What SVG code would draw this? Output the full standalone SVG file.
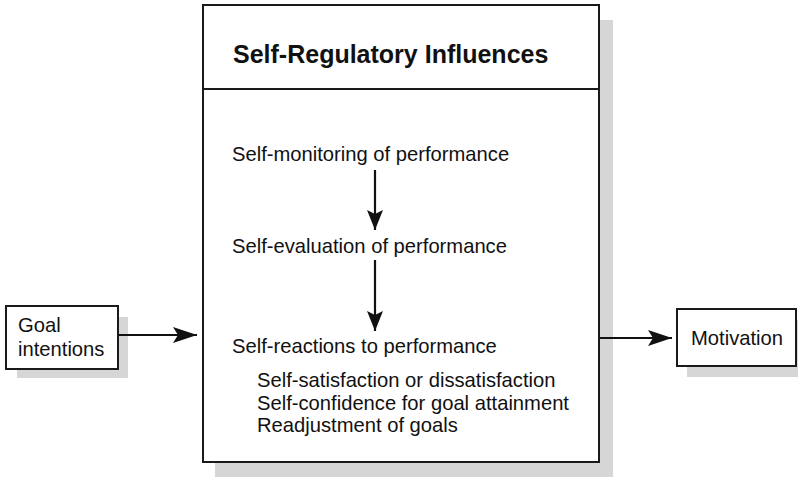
<svg xmlns="http://www.w3.org/2000/svg" width="798" height="480" viewBox="0 0 798 480">
  <defs>
    <marker id="arrow" markerWidth="24" markerHeight="16" refX="24" refY="8" orient="auto" markerUnits="userSpaceOnUse">
      <path d="M0,0 L24,8 L0,16 L5,8 Z" fill="#111"/>
    </marker>
    <marker id="arrowDown" markerWidth="20" markerHeight="16" refX="20" refY="8" orient="auto" markerUnits="userSpaceOnUse">
      <path d="M0,0 L20,8 L0,16 L4,8 Z" fill="#111"/>
    </marker>
  </defs>
  <style>
    .box { fill: #ffffff; stroke: #1a1a1a; stroke-width: 2; }
    .shadow { fill: #d6d6d6; }
    .label { font-family: "Liberation Sans", Arial, Helvetica, sans-serif; font-size: 20.2px; fill: #111; }
    .title { font-family: "Liberation Sans", Arial, Helvetica, sans-serif; font-size: 25px; font-weight: bold; fill: #111; }
    .conn { stroke: #111; stroke-width: 2.2; fill: none; }
  </style>
  <rect width="798" height="480" fill="#ffffff"/>

  <!-- Goal intentions -->
  <g id="goal">
    <rect class="shadow" x="17" y="317" width="111" height="61"/>
    <rect class="box" x="6" y="306" width="112" height="63"/>
    <text class="label" x="18" y="332">Goal</text>
    <text class="label" x="18" y="356">intentions</text>
  </g>

  <!-- Self-regulatory influences -->
  <g id="self-regulatory">
    <rect class="shadow" x="215" y="20" width="398" height="457"/>
    <rect class="box" x="203" y="5" width="396" height="457"/>
    <line x1="203" y1="89" x2="599" y2="89" stroke="#1a1a1a" stroke-width="2"/>
    <text class="title" x="233" y="63">Self-Regulatory Influences</text>
    <text class="label" x="232" y="161">Self-monitoring of performance</text>
    <text class="label" x="232" y="253">Self-evaluation of performance</text>
    <text class="label" x="232" y="353">Self-reactions to performance</text>
    <text class="label" x="257" y="387">Self-satisfaction or dissatisfaction</text>
    <text class="label" x="257" y="410">Self-confidence for goal attainment</text>
    <text class="label" x="257" y="432">Readjustment of goals</text>
  </g>

  <!-- Motivation -->
  <g id="motivation">
    <rect class="shadow" x="687" y="320" width="111" height="57"/>
    <rect class="box" x="677" y="309" width="119" height="57"/>
    <text class="label" x="691" y="345">Motivation</text>
  </g>

  <!-- Connectors -->
  <g id="connectors">
    <line class="conn" x1="118" y1="335" x2="197" y2="335" marker-end="url(#arrow)"/>
    <line class="conn" x1="599" y1="338" x2="672" y2="338" marker-end="url(#arrow)"/>
    <line class="conn" x1="375" y1="170" x2="375" y2="230" marker-end="url(#arrowDown)"/>
    <line class="conn" x1="375" y1="260" x2="375" y2="331" marker-end="url(#arrowDown)"/>
  </g>
</svg>
